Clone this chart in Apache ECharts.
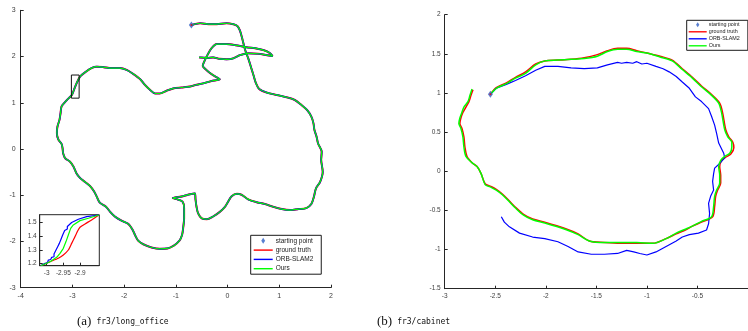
<!DOCTYPE html>
<html><head><meta charset="utf-8">
<script src="https://cdn.jsdelivr.net/npm/echarts@6/dist/echarts.min.js"></script>
<style>html,body{margin:0;padding:0;background:#fff}#c{width:748px;height:331px}</style>
</head><body><div id="c"></div>
<script>
// ---------- (a) fr3/long_office ----------
const officeXTicks = [-4, -3, -2, -1, 0, 1, 2];
const officeYTicks = [-3, -2, -1, 0, 1, 2, 3];
const officeStart = [-0.70, 2.68];
const officeTrajectory = [[-0.70,2.68],[-0.53,2.72],[-0.37,2.70],[-0.21,2.70],[-0.02,2.72],[0.11,2.70],[0.19,2.66],[0.24,2.56],[0.29,2.36],[0.34,2.14],[0.40,1.96],[0.45,1.78],[0.50,1.60],[0.55,1.42],[0.61,1.30],[0.76,1.22],[0.95,1.17],[1.14,1.12],[1.30,1.06],[1.43,0.95],[1.54,0.84],[1.62,0.70],[1.66,0.56],[1.68,0.41],[1.72,0.27],[1.75,0.12],[1.82,-0.06],[1.81,-0.24],[1.84,-0.49],[1.79,-0.71],[1.71,-0.85],[1.67,-1.03],[1.62,-1.19],[1.52,-1.28],[1.37,-1.30],[1.21,-1.32],[1.05,-1.30],[0.88,-1.25],[0.72,-1.19],[0.56,-1.15],[0.40,-1.09],[0.27,-0.99],[0.18,-0.97],[0.08,-1.02],[0.01,-1.14],[-0.05,-1.25],[-0.15,-1.36],[-0.28,-1.46],[-0.40,-1.52],[-0.50,-1.50],[-0.57,-1.39],[-0.60,-1.25],[-0.62,-1.09],[-0.63,-0.96],[-0.73,-0.98],[-0.86,-1.02],[-1.02,-1.05],[-1.06,-1.06],[-0.97,-1.09],[-0.87,-1.14],[-0.84,-1.28],[-0.84,-1.50],[-0.86,-1.72],[-0.88,-1.86],[-0.93,-1.98],[-1.04,-2.09],[-1.16,-2.15],[-1.31,-2.16],[-1.47,-2.13],[-1.63,-2.06],[-1.73,-1.98],[-1.79,-1.86],[-1.84,-1.74],[-1.92,-1.62],[-2.05,-1.55],[-2.18,-1.46],[-2.27,-1.36],[-2.35,-1.25],[-2.47,-1.16],[-2.53,-1.03],[-2.58,-0.92],[-2.66,-0.80],[-2.76,-0.71],[-2.85,-0.63],[-2.92,-0.53],[-2.98,-0.38],[-3.05,-0.27],[-3.14,-0.20],[-3.18,-0.09],[-3.19,0.01],[-3.21,0.11],[-3.27,0.20],[-3.30,0.34],[-3.29,0.48],[-3.25,0.63],[-3.23,0.77],[-3.21,0.92],[-3.14,1.02],[-3.07,1.10],[-3.01,1.17],[-2.97,1.28],[-2.92,1.42],[-2.85,1.57],[-2.74,1.67],[-2.63,1.75],[-2.53,1.78],[-2.40,1.77],[-2.24,1.75],[-2.08,1.75],[-1.95,1.71],[-1.82,1.62],[-1.69,1.51],[-1.60,1.39],[-1.50,1.28],[-1.40,1.20],[-1.31,1.20],[-1.18,1.26],[-1.05,1.31],[-0.89,1.33],[-0.73,1.35],[-0.60,1.39],[-0.47,1.42],[-0.31,1.47],[-0.15,1.51],[-0.21,1.55],[-0.31,1.62],[-0.40,1.70],[-0.48,1.80],[-0.46,1.87],[-0.39,2.03],[-0.31,2.18],[-0.21,2.27],[-0.02,2.27],[0.18,2.24],[0.37,2.20],[0.53,2.18],[0.69,2.14],[0.81,2.08],[0.87,2.01],[0.76,2.03],[0.59,2.06],[0.40,2.07],[0.24,2.03],[0.11,1.96],[-0.02,1.94],[-0.15,1.95],[-0.28,1.98],[-0.40,1.97],[-0.55,1.98]];
const zoomBoxX = [-3.02, -2.87];
const zoomBoxY = [1.10, 1.60];

// inset
const insetXTicks = [-3, -2.95, -2.9];
const insetYTicks = [1.2, 1.3, 1.4, 1.5];
const insetGT = [[-3.018,1.185],[-2.99,1.214],[-2.965,1.239],[-2.95,1.263],[-2.935,1.299],[-2.925,1.347],[-2.915,1.396],[-2.908,1.432],[-2.90,1.464],[-2.885,1.488],[-2.865,1.517],[-2.843,1.553]];
const insetORB = [[-3.018,1.185],[-3.005,1.202],[-2.998,1.205],[-2.995,1.226],[-2.988,1.230],[-2.985,1.246],[-2.978,1.250],[-2.978,1.270],[-2.972,1.276],[-2.972,1.299],[-2.967,1.304],[-2.967,1.323],[-2.962,1.330],[-2.962,1.347],[-2.957,1.352],[-2.957,1.377],[-2.952,1.384],[-2.952,1.408],[-2.946,1.414],[-2.946,1.440],[-2.938,1.452],[-2.938,1.469],[-2.925,1.498],[-2.905,1.522],[-2.88,1.541],[-2.843,1.553]];
const insetOurs = [[-3.018,1.185],[-2.99,1.214],[-2.97,1.246],[-2.96,1.275],[-2.955,1.280],[-2.95,1.311],[-2.945,1.318],[-2.942,1.360],[-2.937,1.365],[-2.935,1.408],[-2.930,1.412],[-2.928,1.456],[-2.92,1.481],[-2.90,1.512],[-2.875,1.529],[-2.843,1.553]];

// ---------- (b) fr3/cabinet ----------
const cabinetXTicks = [-3, -2.5, -2, -1.5, -1, -0.5];
const cabinetYTicks = [-1.5, -1, -0.5, 0, 0.5, 1, 1.5, 2];
const cabinetStart = [-2.548, 0.983];
const cabinetGT = [[-2.548,0.983],[-2.49,1.07],[-2.39,1.13],[-2.30,1.20],[-2.20,1.27],[-2.10,1.37],[-2.01,1.41],[-1.88,1.42],[-1.75,1.43],[-1.62,1.45],[-1.49,1.49],[-1.39,1.54],[-1.29,1.57],[-1.20,1.57],[-1.10,1.54],[-1.00,1.51],[-0.87,1.47],[-0.75,1.42],[-0.65,1.31],[-0.55,1.20],[-0.46,1.09],[-0.36,0.98],[-0.28,0.87],[-0.25,0.74],[-0.22,0.53],[-0.19,0.44],[-0.15,0.37],[-0.14,0.30],[-0.17,0.22],[-0.22,0.18],[-0.26,0.14],[-0.28,0.06],[-0.27,-0.05],[-0.27,-0.15],[-0.30,-0.24],[-0.32,-0.32],[-0.33,-0.45],[-0.35,-0.58],[-0.46,-0.65],[-0.55,-0.70],[-0.62,-0.75],[-0.71,-0.80],[-0.81,-0.86],[-0.94,-0.92],[-1.10,-0.92],[-1.26,-0.92],[-1.42,-0.91],[-1.57,-0.89],[-1.68,-0.80],[-1.81,-0.73],[-2.01,-0.65],[-2.13,-0.61],[-2.22,-0.55],[-2.30,-0.46],[-2.36,-0.38],[-2.43,-0.29],[-2.49,-0.23],[-2.55,-0.19],[-2.60,-0.16],[-2.64,-0.03],[-2.68,0.06],[-2.73,0.11],[-2.78,0.19],[-2.80,0.31],[-2.81,0.44],[-2.83,0.55],[-2.85,0.61],[-2.84,0.68],[-2.82,0.75],[-2.79,0.82],[-2.76,0.89],[-2.74,0.97],[-2.72,1.04]];
const cabinetORB = [[-2.548,0.983],[-2.49,1.06],[-2.39,1.11],[-2.30,1.16],[-2.20,1.22],[-2.10,1.29],[-2.01,1.34],[-1.88,1.34],[-1.75,1.32],[-1.62,1.31],[-1.49,1.32],[-1.39,1.36],[-1.29,1.39],[-1.25,1.38],[-1.20,1.39],[-1.14,1.38],[-1.10,1.40],[-1.05,1.37],[-1.00,1.38],[-0.91,1.34],[-0.84,1.31],[-0.78,1.27],[-0.71,1.21],[-0.65,1.14],[-0.58,1.06],[-0.52,0.95],[-0.46,0.89],[-0.39,0.80],[-0.36,0.70],[-0.33,0.59],[-0.31,0.48],[-0.29,0.36],[-0.24,0.23],[-0.23,0.17],[-0.28,0.10],[-0.33,0.04],[-0.34,-0.03],[-0.35,-0.13],[-0.34,-0.24],[-0.37,-0.32],[-0.39,-0.41],[-0.38,-0.54],[-0.39,-0.67],[-0.41,-0.75],[-0.49,-0.79],[-0.58,-0.81],[-0.65,-0.84],[-0.71,-0.89],[-0.81,-0.96],[-0.91,-1.03],[-1.00,-1.07],[-1.07,-1.05],[-1.13,-1.03],[-1.20,-1.01],[-1.29,-1.05],[-1.42,-1.06],[-1.55,-1.06],[-1.68,-1.03],[-1.78,-0.96],[-1.88,-0.90],[-2.01,-0.86],[-2.13,-0.84],[-2.26,-0.79],[-2.36,-0.71],[-2.41,-0.65],[-2.44,-0.58]];
const cabinetOurs = [[-2.548,0.983],[-2.49,1.06],[-2.39,1.12],[-2.30,1.19],[-2.20,1.25],[-2.10,1.36],[-2.01,1.41],[-1.88,1.42],[-1.75,1.43],[-1.62,1.44],[-1.49,1.47],[-1.39,1.53],[-1.29,1.56],[-1.20,1.56],[-1.10,1.53],[-1.00,1.51],[-0.87,1.46],[-0.75,1.41],[-0.65,1.30],[-0.55,1.19],[-0.46,1.08],[-0.36,0.97],[-0.29,0.87],[-0.26,0.74],[-0.23,0.53],[-0.20,0.44],[-0.16,0.37],[-0.16,0.31],[-0.18,0.23],[-0.23,0.19],[-0.27,0.14],[-0.29,0.06],[-0.28,-0.05],[-0.28,-0.15],[-0.31,-0.24],[-0.33,-0.32],[-0.34,-0.45],[-0.36,-0.58],[-0.46,-0.64],[-0.55,-0.70],[-0.62,-0.74],[-0.71,-0.79],[-0.81,-0.86],[-0.94,-0.92],[-1.10,-0.91],[-1.26,-0.91],[-1.42,-0.91],[-1.57,-0.89],[-1.68,-0.81],[-1.81,-0.74],[-2.01,-0.66],[-2.13,-0.62],[-2.22,-0.56],[-2.30,-0.47],[-2.36,-0.39],[-2.43,-0.30],[-2.49,-0.24],[-2.55,-0.20],[-2.60,-0.17],[-2.64,-0.03],[-2.68,0.06],[-2.73,0.11],[-2.79,0.19],[-2.81,0.31],[-2.82,0.44],[-2.84,0.55],[-2.86,0.61],[-2.85,0.68],[-2.83,0.75],[-2.81,0.82],[-2.77,0.89],[-2.75,0.97],[-2.73,1.05]];

const legendNames = ['starting point', 'ground truth', 'ORB-SLAM2', 'Ours'];
const RED = '#ff0000', BLUE = '#0000ff', GREEN = '#00ff00', MARK = '#2f5fc4';
const FONT = 'Liberation Sans, Arial, sans-serif';
const LINE_ICON = 'path://M0 0H40V3H0Z';
const DIAMOND_ICON = 'path://M0 -4L2.6 0L0 4L-2.6 0Z';

function valAxis(gridIndex, min, max, ticks, extra) {
  return Object.assign({
    type: 'value', gridIndex, min, max,
    axisLine: { show: true, onZero: false, lineStyle: { color: '#262626', width: 1 } },
    axisTick: { show: true, inside: true, length: 3, customValues: ticks, lineStyle: { color: '#262626' } },
    axisLabel: { show: true, customValues: ticks, color: '#404040', fontSize: 7, fontFamily: FONT, margin: 5 },
    splitLine: { show: false }
  }, extra || {});
}
const lineS = (name, data, color, width, xi, extra) => Object.assign({
  type: 'line', name, data, xAxisIndex: xi, yAxisIndex: xi, symbol: 'none',
  lineStyle: { color, width }, itemStyle: { color }, smooth: 0.3, animation: false, silent: true
}, extra || {});

const rect = [[zoomBoxX[0], zoomBoxY[0]], [zoomBoxX[1], zoomBoxY[0]], [zoomBoxX[1], zoomBoxY[1]], [zoomBoxX[0], zoomBoxY[1]], [zoomBoxX[0], zoomBoxY[0]]];
const legendData = [
  { name: legendNames[0], icon: DIAMOND_ICON },
  { name: legendNames[1], icon: LINE_ICON },
  { name: legendNames[2], icon: LINE_ICON },
  { name: legendNames[3], icon: LINE_ICON }
];
const captionRich = {
  a: { fontFamily: 'Liberation Serif, DejaVu Serif, serif', fontSize: 13, fontWeight: 'normal', color: '#111' },
  b: { fontFamily: 'DejaVu Sans Mono, Liberation Mono, monospace', fontSize: 8, fontWeight: 'normal', color: '#111' }
};

const chart = echarts.init(document.getElementById('c'), null, { renderer: 'canvas' });
chart.setOption({
  backgroundColor: '#fff',
  animation: false,
  grid: [
    { left: 20.7, top: 10.3, width: 310.3, height: 277.4, containLabel: false },
    { left: 39.7, top: 214.7, width: 59.6, height: 51, containLabel: false, show: true, borderColor: '#262626', borderWidth: 1, backgroundColor: '#fff' },
    { left: 444.7, top: 14.7, width: 308.4, height: 274, containLabel: false }
  ],
  xAxis: [
    valAxis(0, -4, 2, officeXTicks),
    valAxis(1, -3.021, -2.842, insetXTicks, { axisLabel: { customValues: insetXTicks, color: '#404040', fontSize: 6.5, fontFamily: FONT, margin: 4 } }),
    valAxis(2, -3, 0, cabinetXTicks, { axisLabel: { customValues: cabinetXTicks, color: '#404040', fontSize: 6.5, fontFamily: FONT, margin: 4 } })
  ],
  yAxis: [
    valAxis(0, -3, 3, officeYTicks),
    valAxis(1, 1.185, 1.555, insetYTicks, { axisLabel: { customValues: insetYTicks, color: '#404040', fontSize: 6.5, fontFamily: FONT, margin: 3 } }),
    valAxis(2, -1.5, 2, cabinetYTicks, { axisLabel: { customValues: cabinetYTicks, color: '#404040', fontSize: 6.5, fontFamily: FONT, margin: 4 } })
  ],
  legend: [
    {
      data: legendData,
      orient: 'vertical', left: 250.7, top: 235.3,
      backgroundColor: '#fff', borderColor: '#1a1a1a', borderWidth: 1, borderRadius: 0,
      padding: [2, 8, 2, 3], itemWidth: 19, itemHeight: 6, itemGap: 2.3, selectedMode: false,
      symbolKeepAspect: true,
      textStyle: { fontSize: 6.5, fontFamily: FONT, color: '#222', lineHeight: 6, padding: [0, 0, 0, -2] }
    },
    {
      data: legendData,
      orient: 'vertical', left: 686.7, top: 20.3,
      backgroundColor: '#fff', borderColor: '#1a1a1a', borderWidth: 1, borderRadius: 0,
      padding: [2, 8, 2, 2], itemWidth: 18, itemHeight: 5, itemGap: 2, selectedMode: false,
      symbolKeepAspect: true,
      textStyle: { fontSize: 5.4, fontFamily: FONT, color: '#222', lineHeight: 5, padding: [0, 0, 0, -3] }
    }
  ],
  title: [
    { left: 72, top: 308, text: '{a|(a)} {b|fr3/long_office}', textStyle: { fontWeight: 'normal', rich: captionRich } },
    { left: 372, top: 308, text: '{a|(b)} {b|fr3/cabinet}', textStyle: { fontWeight: 'normal', rich: captionRich } }
  ],
  series: [
    lineS('ground truth', officeTrajectory, RED, 2.0, 0),
    lineS('ORB-SLAM2', officeTrajectory, BLUE, 1.7, 0),
    lineS('Ours', officeTrajectory, GREEN, 1.2, 0),
    { type: 'scatter', name: 'starting point', data: [officeStart], xAxisIndex: 0, yAxisIndex: 0, symbol: 'diamond', symbolSize: [5, 7], itemStyle: { color: MARK }, silent: true, z: 5 },
    { type: 'scatter', name: 'start dot a', data: [officeStart], xAxisIndex: 0, yAxisIndex: 0, symbol: 'circle', symbolSize: 2, itemStyle: { color: RED }, silent: true, z: 6 },
    lineS('zoom box', rect, '#111', 1, 0, { smooth: false, z: 4 }),
    lineS('ground truth', insetGT, RED, 1.2, 1, { smooth: 0.2 }),
    lineS('ORB-SLAM2', insetORB, BLUE, 1.2, 1, { smooth: false }),
    lineS('Ours', insetOurs, GREEN, 1.2, 1, { smooth: false }),
    lineS('ground truth', cabinetGT, RED, 1.5, 2),
    lineS('ORB-SLAM2', cabinetORB, BLUE, 1.2, 2, { smooth: false }),
    lineS('Ours', cabinetOurs, GREEN, 1.5, 2),
    { type: 'scatter', name: 'starting point', data: [cabinetStart], xAxisIndex: 2, yAxisIndex: 2, symbol: 'diamond', symbolSize: [5, 7], itemStyle: { color: MARK }, silent: true, z: 5 },
    { type: 'scatter', name: 'start dot b', data: [cabinetStart], xAxisIndex: 2, yAxisIndex: 2, symbol: 'circle', symbolSize: 2, itemStyle: { color: RED }, silent: true, z: 6 }
  ]
});
</script>
</body></html>
